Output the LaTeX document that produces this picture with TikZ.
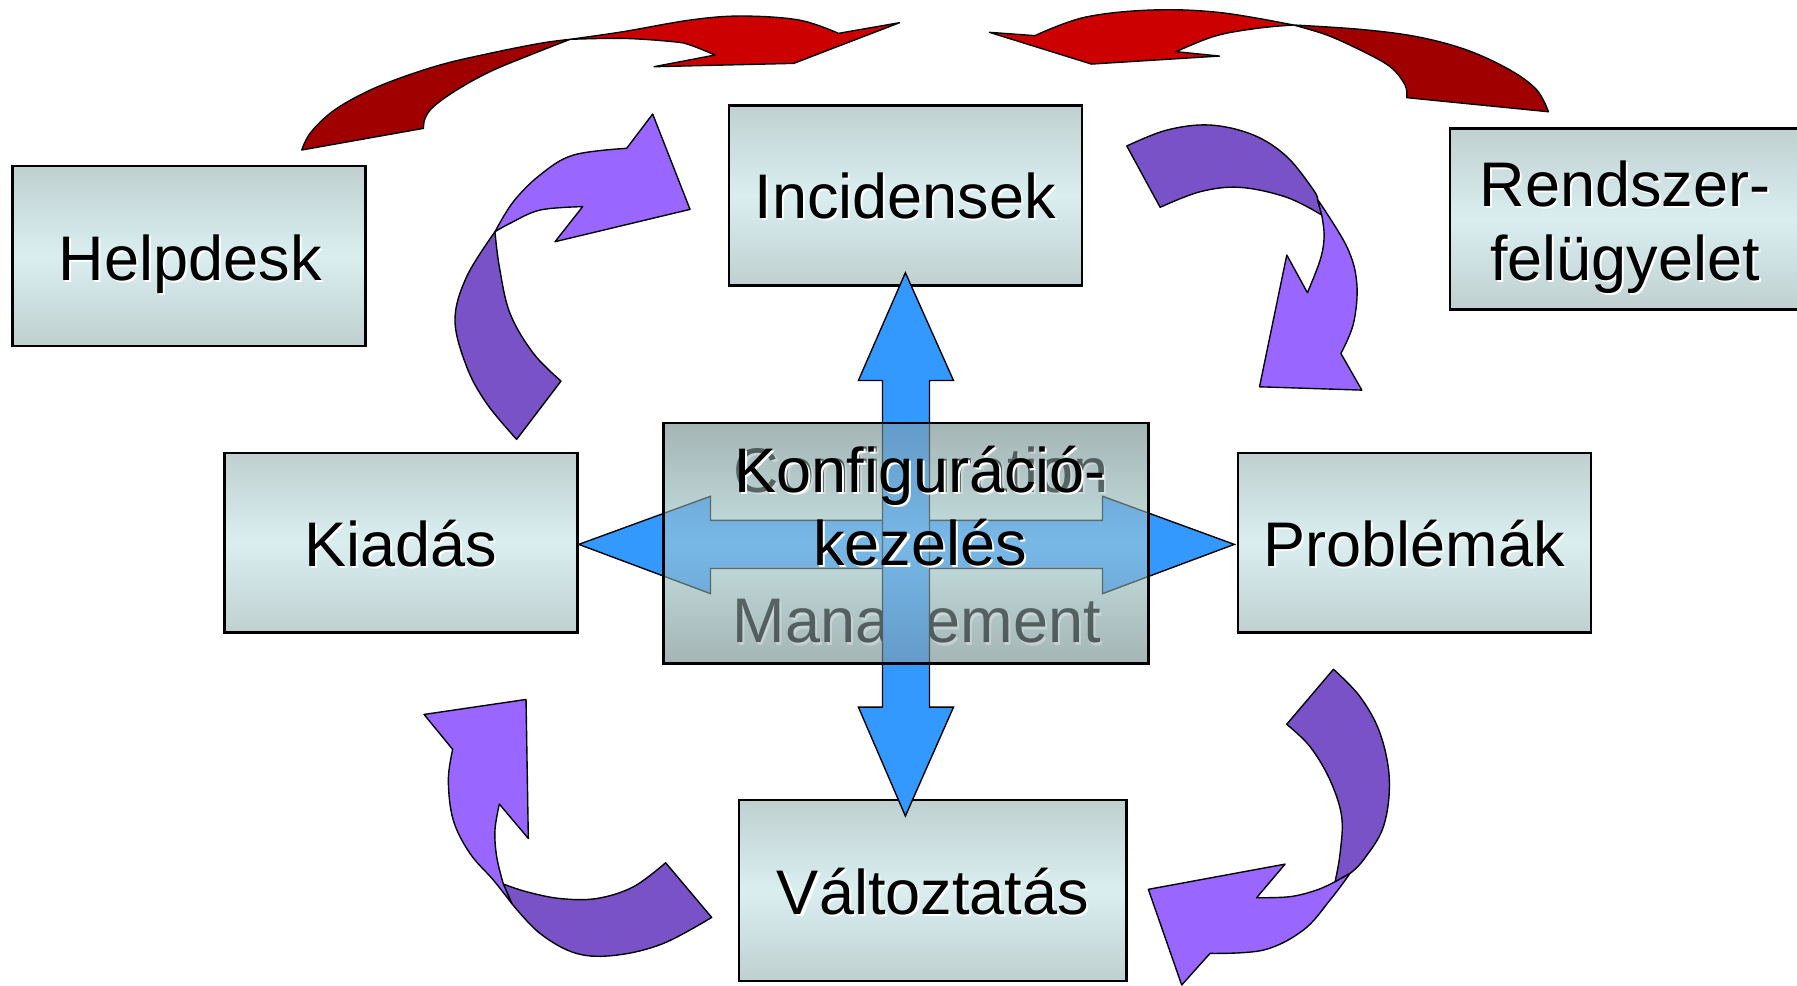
\documentclass[tikz,border=0pt]{standalone}
\usepackage{fontspec}
\setmainfont{Liberation Sans}
\definecolor{boxedge}{RGB}{192,208,208}
\definecolor{boxmid}{RGB}{218,238,240}
\definecolor{ovedge}{RGB}{142,158,158}
\definecolor{ovmid}{RGB}{179,211,211}
\definecolor{arrowblue}{RGB}{51,153,255}
\definecolor{redlight}{RGB}{204,0,0}
\definecolor{reddark}{RGB}{160,0,0}
\definecolor{purplelight}{RGB}{153,102,255}
\definecolor{purpledark}{RGB}{122,82,200}
\newcommand\shtext[4]{%
  \node[lbl,text=white,anchor=base] (#1s) at ({#2+1.8},{#3+1.8}) {#4};
  \node[lbl,anchor=base] (#1) at (#2,#3) {#4};}
\begin{document}
\begin{tikzpicture}[x=1pt,y=-1pt,
  box/.style={draw=black, line width=2pt, top color=boxedge, bottom color=boxedge, middle color=boxmid, inner sep=0pt},
  lbl/.style={font=\fontsize{55}{64}\selectfont, text=black, inner sep=0pt},
  ribbon/.style={draw=black, line width=1.2pt, line join=round},
  bluearrow/.style={draw=black, line width=1.2pt, fill=arrowblue, line join=miter}]
\useasboundingbox (0,0) rectangle (1568,860);

% ---- boxes
\node[box, minimum width=308pt, minimum height=157pt] (helpdesk) at (165,223.5) {};
\node[box, minimum width=308pt, minimum height=157pt] (incid) at (790,170.5) {};
\node[box, minimum width=310pt, minimum height=158pt] (rendsz) at (1420,191) {};
\node[box, minimum width=308pt, minimum height=157pt] (kiadas) at (350,473.5) {};
\node[box, minimum width=308pt, minimum height=157pt] (probl) at (1234,473.5) {};
\node[box, minimum width=338pt, minimum height=158pt] (valt) at (814,777) {};

\shtext{thelp}{166}{245}{Helpdesk}
\shtext{tinc}{790}{191}{Incidensek}
\shtext{trend1}{1418}{180}{Rendszer-}
\shtext{trend2}{1418}{245}{felügyelet}
\shtext{tkiad}{350}{494}{Kiadás}
\shtext{tprob}{1234}{494}{Problémák}
\shtext{tvalt}{814}{798}{Változtatás}

% ---- red arrows
\filldraw[ribbon, fill=reddark]
  plot[smooth,tension=0.6] coordinates {(263.3,130.9) (270.5,116.4) (288,98.9) (311.3,84.4) (340.4,71.3) (384,56.7) (427.6,46.5) (471.3,37.8) (497.5,34.3)}
  -- plot[smooth,tension=0.6] coordinates {(497.5,34.3) (462.5,48) (427.6,62.5) (398.5,78.5) (378.2,93.1) (370.9,103.3) (369.5,112)}
  -- cycle;
\filldraw[ribbon, fill=redlight]
  plot[smooth,tension=0.6] coordinates {(497.5,34.3) (544,27.6) (602.2,17.5) (646.7,14) (697.3,17.5) (731.6,29.1)}
  -- (784.9,19.8) -- (692.6,55.3) -- (570.7,58.2) -- (624,48)
  -- plot[smooth,tension=0.6] coordinates {(624,48) (602.2,39.3) (587.6,36.4) (544,33.5) (497.5,34.3)}
  -- cycle;

\filldraw[ribbon, fill=reddark]
  plot[smooth,tension=0.6] coordinates {(1128.5,21.8) (1186.7,25.6) (1236.2,32) (1279.8,43.6) (1317.6,61.1) (1340.9,78.5) (1351.1,97.5)}
  -- (1227.4,85.2)
  -- plot[smooth,tension=0.6] coordinates {(1227.4,85.2) (1226,74.2) (1212.9,58.2) (1186.7,43.6) (1157.6,30.5) (1128.5,21.8)}
  -- cycle;
\filldraw[ribbon, fill=redlight]
  plot[smooth,tension=0.6] coordinates {(1128.5,21.8) (1065,11) (1005.7,8.7) (946.4,15.1) (903,31.1)}
  -- (863.3,28.2) -- (952.3,55.9) -- (1064.1,48.9) -- (1026.2,45.1)
  -- plot[smooth,tension=0.6] coordinates {(1026.2,45.1) (1060.4,31.4) (1097,24.7) (1128.5,21.8)}
  -- cycle;

% ---- purple arrows
% top left
\filldraw[ribbon, fill=purpledark]
  plot[smooth,tension=0.6] coordinates {(431.9,202.2) (407.2,241.4) (397,279.3) (407.2,320) (424.6,352) (450.8,383.4)}
  -- (489.5,332.5)
  -- plot[smooth,tension=0.6] coordinates {(489.5,332.5) (465.4,308.3) (445,273.4) (435.7,232.7) (431.9,202.2)}
  -- cycle;
\filldraw[ribbon, fill=purplelight]
  plot[smooth,tension=0.6] coordinates {(431.9,202.2) (447.9,176) (471.2,152.7) (500.3,135.3) (546.8,129.4)}
  -- (569.5,99.5) -- (602.1,182.7) -- (484.3,210.9) -- (508.4,180.3)
  -- plot[smooth,tension=0.6] coordinates {(508.4,180.3) (471.2,183.3) (445,194.9) (431.9,202.2)}
  -- cycle;
% top right
\filldraw[ribbon, fill=purpledark]
  plot[smooth,tension=0.6] coordinates {(983.2,127.4) (1018.1,113.5) (1055.9,109.1) (1093.7,117.8) (1122.8,136.7) (1146.1,165.8) (1149.6,174)}
  -- (1153.3,187.6)
  -- plot[smooth,tension=0.6] coordinates {(1153.3,187.6) (1122.8,172.2) (1082.1,163.5) (1047.2,167.3) (1012.3,180.9)}
  -- cycle;
\filldraw[ribbon, fill=purplelight]
  plot[smooth,tension=0.6] coordinates {(1149.6,174) (1175.2,215.3) (1183.9,247.3) (1181,282.2) (1170,308.4)}
  -- (1188.3,340.4) -- (1099,337.5) -- (1122.8,222.5) -- (1140.8,255.4)
  -- plot[smooth,tension=0.6] coordinates {(1140.8,255.4) (1151.9,226.9) (1155.4,206.5) (1153.3,187.6)}
  -- cycle;
% bottom left
\filldraw[ribbon, fill=purpledark]
  plot[smooth,tension=0.6] coordinates {(439.2,771.4) (459.5,778.1) (488.6,784) (520.6,784) (552.6,773.8) (580.8,752.8)}
  -- (621,800.5)
  -- plot[smooth,tension=0.6] coordinates {(621,800.5) (578.8,823.2) (538.1,833.4) (503.2,832) (471.2,814.5) (446.5,788.3)}
  -- cycle;
\filldraw[ribbon, fill=purplelight]
  (370,623.4) -- (459,610.3) -- (461,731.6) -- (435.7,701.6)
  -- plot[smooth,tension=0.6] coordinates {(435.7,701.6) (431.9,724.3) (433.4,747.6) (439.2,771.4)}
  -- plot[smooth,tension=0.6] coordinates {(446.5,788.3) (430.5,767.9) (410.1,744.7) (395.5,715.6) (391.2,680.7) (395,653.9)}
  -- cycle;
% bottom right
\filldraw[ribbon, fill=purpledark]
  plot[smooth,tension=0.6] coordinates {(1163.5,584.0) (1186.7,607.9) (1204.2,639.9) (1212.3,680.6) (1207.1,721.4) (1189.6,750.4) (1178,762.1)}
  -- (1164.9,769.4)
  -- plot[smooth,tension=0.6] coordinates {(1164.9,769.4) (1169.3,744.6) (1170.7,712.6) (1160.5,680.6) (1143.1,651.5) (1122.7,632.0)}
  -- cycle;
\filldraw[ribbon, fill=purplelight]
  plot[smooth,tension=0.6] coordinates {(1178,762.1) (1160.5,785.4) (1137.3,811.5) (1102.4,829) (1055.8,831.9)}
  -- (1031.1,859.5) -- (1002,776.0) -- (1121.3,754) -- (1096.5,783.3)
  -- plot[smooth,tension=0.6] coordinates {(1096.5,783.3) (1125.6,782.4) (1148.9,776.6) (1164.9,769.4)}
  -- cycle;

% ---- central box (lower layer with ghost text)
\node[box, draw=none, minimum width=423pt, minimum height=210pt] (konfbase) at (790.5,474) {};
\shtext{gconf}{804}{430}{Configuration}
\shtext{gman}{800}{561}{Management}

% ---- blue double arrows
\filldraw[bluearrow] (505,475) -- (620,433) -- (620,454) -- (962,454) -- (962,433) -- (1077,475)
  -- (962,518) -- (962,496) -- (620,496) -- (620,518) -- cycle;
\filldraw[bluearrow] (790,238) -- (832,332) -- (811,332) -- (811,617) -- (832,617) -- (790,712)
  -- (749,617) -- (770,617) -- (770,332) -- (749,332) -- cycle;

% ---- semi-transparent overlay box
\node[draw=black, line width=2pt, top color=ovedge, bottom color=ovedge, middle color=ovmid,
      fill opacity=0.54, minimum width=423pt, minimum height=210pt, inner sep=0pt] (konf) at (790.5,474) {};

\shtext{tkonf1}{803}{430}{Konfiguráció-}
\shtext{tkonf2}{803}{493}{kezelés}
\end{tikzpicture}
\end{document}
